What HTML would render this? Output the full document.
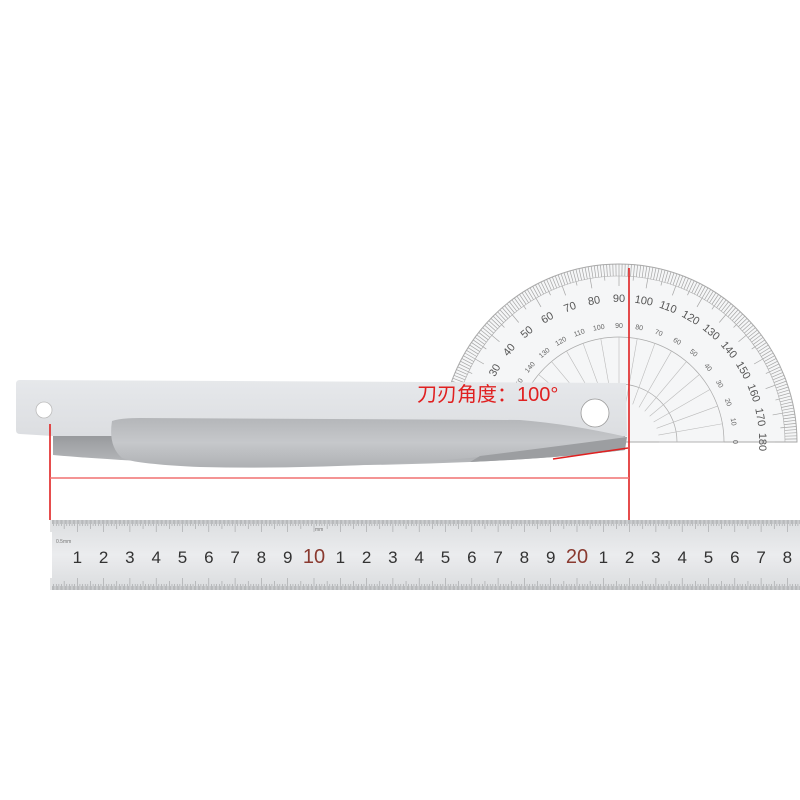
<!DOCTYPE html>
<html><head><meta charset="utf-8"><style>
html,body{margin:0;padding:0;background:#fff;width:800px;height:800px;overflow:hidden}
</style></head><body>
<svg id="s" width="800" height="800" viewBox="0 0 800 800" xmlns="http://www.w3.org/2000/svg">
<defs>
<linearGradient id="bar" x1="0" y1="0" x2="0" y2="1">
<stop offset="0" stop-color="#e6e8eb"/><stop offset="1" stop-color="#dcdee1"/></linearGradient>
<linearGradient id="blade" x1="0" y1="0" x2="0" y2="1">
<stop offset="0" stop-color="#909295"/><stop offset="1" stop-color="#b8babd"/></linearGradient>
<linearGradient id="rec" x1="0" y1="0" x2="0" y2="1">
<stop offset="0" stop-color="#b4b6b9"/><stop offset="0.5" stop-color="#c6c8cb"/><stop offset="1" stop-color="#aeb0b3"/></linearGradient>
<linearGradient id="rul" x1="0" y1="0" x2="0" y2="1">
<stop offset="0" stop-color="#dcdee0"/><stop offset="0.5" stop-color="#ebecee"/><stop offset="1" stop-color="#dadcde"/></linearGradient>
</defs>
<g id="prot"></g>
<!-- knife -->
<path d="M53 428 L625 428 L625 450 Q560 458 470 462 Q330 468 200 464 Q110 460 53 455 Z" fill="url(#blade)"/>
<path d="M20 380 L626 383 L627 436 L53 436 L20 434 Q16 434 16 430 L16 384 Q16 380 20 380 Z" fill="url(#bar)"/>
<path d="M112 421 Q120 418 140 418 L520 420 Q570 424 627 437 L625 442 Q560 448 470 458 Q330 470 200 467 Q135 464 122 458 Q108 446 112 421 Z" fill="url(#rec)"/>
<path d="M627 437 L625 450 Q560 458 470 462 L480 456 Q560 446 627 437 Z" fill="#9c9ea1"/>
<circle cx="44" cy="410" r="8" fill="#fff" stroke="#bbb" stroke-width="0.8"/>
<circle cx="595" cy="413" r="14" fill="#fff" stroke="#999" stroke-width="0.8"/>
<!-- red lines -->
<g stroke="#e02020" stroke-width="1.6" fill="none">
<line x1="629" y1="268" x2="629" y2="520"/>
<line x1="50" y1="424" x2="50" y2="520"/>
<line x1="50" y1="478" x2="629" y2="478" stroke="#f07070"/>
<line x1="553" y1="459" x2="628" y2="448"/>
</g>
<text x="417" y="401" font-family="Liberation Sans, Noto Sans CJK SC, sans-serif" font-size="20" fill="#e02020">刀刃角度：100°</text>
<!-- ruler -->
<rect x="52" y="520" width="748" height="70" fill="url(#rul)"/>
<g id="ticks" stroke="#a0a2a4" stroke-width="0.6"></g>
<g id="nums" font-family="Liberation Sans, sans-serif" font-size="17" fill="#333" text-anchor="middle"></g>
<text x="56" y="543" font-family="Liberation Sans, sans-serif" font-size="5" fill="#777">0.5mm</text>
<text x="315" y="531" font-family="Liberation Sans, sans-serif" font-size="5" fill="#777">mm</text>
</svg>
<script>
var NS="http://www.w3.org/2000/svg";
function el(p,t,a,txt){var e=document.createElementNS(NS,t);for(var k in a)e.setAttribute(k,a[k]);if(txt!=null)e.textContent=txt;document.getElementById(p).appendChild(e);return e;}
var cx=619,cy=442,R=178;
el("prot","path",{d:"M"+(cx-R)+" "+cy+" A"+R+" "+R+" 0 0 1 "+(cx+R)+" "+cy+" Z",fill:"#f5f6f7",stroke:"#aaa","stroke-width":"1"});
for(var d=0;d<=180;d+=1){var a=Math.PI*d/180;var c=Math.cos(a),s=Math.sin(a);
 var r2=R-(d%10==0?22:(d%5==0?16:12));
 el("prot","line",{x1:cx-R*c,y1:cy-R*s,x2:cx-r2*c,y2:cy-r2*s,stroke:"#a5a5a5","stroke-width":"0.7"});}
el("prot","path",{d:"M"+(cx-R+12)+" "+cy+" A"+(R-12)+" "+(R-12)+" 0 0 1 "+(cx+R-12)+" "+cy,fill:"none",stroke:"#aaa","stroke-width":"0.6"});
el("prot","path",{d:"M"+(cx-105)+" "+cy+" A105 105 0 0 1 "+(cx+105)+" "+cy,fill:"none",stroke:"#aaa","stroke-width":"0.7"});
el("prot","path",{d:"M"+(cx-58)+" "+cy+" A58 58 0 0 1 "+(cx+58)+" "+cy,fill:"none",stroke:"#aaa","stroke-width":"0.7"});
for(var d=0;d<=180;d+=10){var a=Math.PI*d/180;var c=Math.cos(a),s=Math.sin(a);
 el("prot","line",{x1:cx-105*c,y1:cy-105*s,x2:cx-40*c,y2:cy-40*s,stroke:"#bbb","stroke-width":"0.6"});
 var r=R-35;el("prot","text",{x:cx-r*c,y:cy-r*s+3,"font-size":"11","font-family":"Liberation Sans, sans-serif",fill:"#555","text-anchor":"middle",transform:"rotate("+(d-90)+" "+(cx-r*c)+" "+(cy-r*s)+")"},String(d));
 var r3=R-62;el("prot","text",{x:cx-r3*c,y:cy-r3*s+2,"font-size":"7","font-family":"Liberation Sans, sans-serif",fill:"#666","text-anchor":"middle",transform:"rotate("+(d-90)+" "+(cx-r3*c)+" "+(cy-r3*s)+")"},String(180-d));}
var u=26.3,o=51;
for(var i=0;i*u/10+o<800;i++){var x=o+i*u/10;var L=(i%10==0?12:(i%5==0?9:6));
 el("ticks","line",{x1:x,y1:520,x2:x,y2:520+L});
 el("ticks","line",{x1:x,y1:590,x2:x,y2:590-L});
 el("ticks","line",{x1:x+u/20,y1:520,x2:x+u/20,y2:524});
 el("ticks","line",{x1:x+u/20,y1:590,x2:x+u/20,y2:586});}
for(var n=1;n<=29;n++){var x=o+n*u;if(x>805)break;var lab=(n%10==0)?String(n):String(n%10);
 var t=el("nums","text",{x:x,y:563},lab);if(n%10==0){t.setAttribute("fill","#8a3a30");t.setAttribute("font-size","20");}}
</script>
</body></html>
